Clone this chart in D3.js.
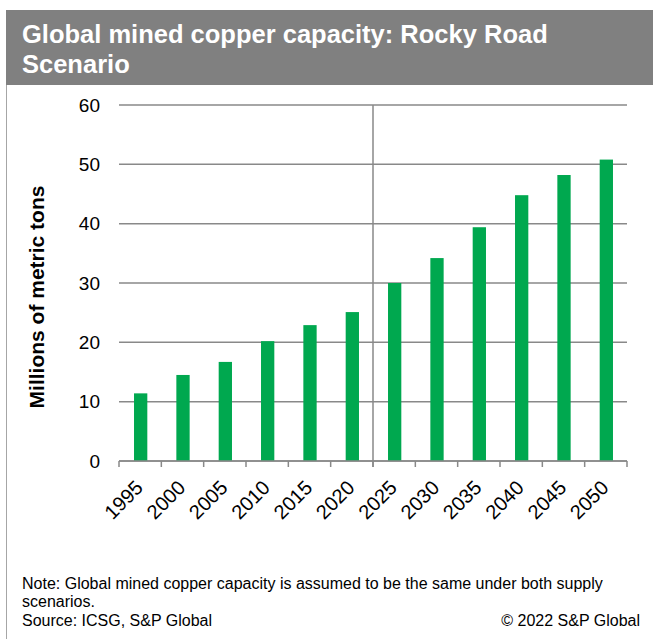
<!DOCTYPE html>
<html><head><meta charset="utf-8">
<script src="https://cdn.jsdelivr.net/npm/d3@7"></script>
<style>body{margin:0;background:#fff}svg{display:block;font-family:Arial,"Liberation Sans",sans-serif}</style>
</head><body>
<svg id="c" width="653" height="639"></svg>
<script>
const years = ["1995","2000","2005","2010","2015","2020","2025","2030","2035","2040","2045","2050"];
const capacity = [11.4,14.5,16.7,20.2,22.9,25.1,30.0,34.2,39.4,44.8,48.2,50.8];
const yTicks = [0,10,20,30,40,50,60];
const titleLines = ["Global mined copper capacity: Rocky Road","Scenario"];
const noteLines = ["Note: Global mined copper capacity is assumed to be the same under both supply","scenarios.","Source: ICSG, S&P Global"];
const copyright = "© 2022 S&P Global";

const svg = d3.select("#c");
// frame
svg.append("line").attr("x1",6.5).attr("x2",6.5).attr("y1",10).attr("y2",639).attr("stroke","#a6a6a6").attr("stroke-width",1);
svg.append("rect").attr("x",6).attr("y",10).attr("width",647).attr("height",75).attr("fill","#808080");
svg.append("g").selectAll("text").data(titleLines).join("text")
  .attr("x",22).attr("y",(d,i)=>42.5+i*30.5).attr("fill","#fff").attr("font-size",25.5).attr("font-weight","bold").text(d=>d);

const L=119,R=627,T=105,B=461;
const x = d3.scaleBand().domain(years).range([L,R]).paddingInner(0);
const y = d3.scaleLinear().domain([0,60]).range([B,T]);

// gridlines
svg.append("g").selectAll("line").data(yTicks).join("line")
  .attr("x1",L).attr("x2",R).attr("y1",d=>y(d)).attr("y2",d=>y(d))
  .attr("stroke","#898989").attr("stroke-width",1.5);
// vertical separator
svg.append("line").attr("x1",x("2025")).attr("x2",x("2025")).attr("y1",T).attr("y2",B+6)
  .attr("stroke","#898989").attr("stroke-width",1.5);

// bars
const bw = 13.3;
svg.append("g").selectAll("rect").data(years).join("rect")
  .attr("x",d=>x(d)+x.bandwidth()/2-bw/2+0.5).attr("width",bw)
  .attr("y",(d,i)=>y(capacity[i])).attr("height",(d,i)=>B-y(capacity[i]))
  .attr("fill","#00a84f");

// x axis
const gx = svg.append("g").attr("transform",`translate(0,${B})`);
gx.append("line").attr("x1",L).attr("x2",R).attr("stroke","#898989").attr("stroke-width",1.5);
const bounds = years.map(d=>x(d)).concat([R]);
gx.selectAll(".tk").data(bounds).join("line").attr("class","tk")
  .attr("x1",d=>d).attr("x2",d=>d).attr("y1",0).attr("y2",6).attr("stroke","#898989").attr("stroke-width",1.5);
gx.selectAll(".lb").data(years).join("text").attr("class","lb")
  .attr("transform",d=>`translate(${x(d)+x.bandwidth()/2+4},${28}) rotate(-45)`)
  .attr("text-anchor","end").attr("font-size",20).attr("fill","#000").text(d=>d);

// y axis labels
const yAxis = d3.axisLeft(y).tickValues(yTicks).tickSize(0).tickPadding(19);
const gy = svg.append("g").attr("transform",`translate(${L},0)`).call(yAxis);
gy.select(".domain").remove();
gy.selectAll("text").attr("font-size",19).attr("fill","#000").attr("font-family","Arial, 'Liberation Sans', sans-serif");

svg.append("text").attr("transform",`translate(44,297) rotate(-90)`).attr("text-anchor","middle")
  .attr("font-size",21).attr("font-weight","bold").text("Millions of metric tons");

// footer
svg.append("g").selectAll("text").data(noteLines).join("text")
  .attr("x",22).attr("y",(d,i)=>588.5+i*18.5).attr("font-size",16).attr("fill","#000").text(d=>d);
svg.append("text").attr("x",640).attr("y",625.5).attr("text-anchor","end").attr("font-size",16).text(copyright);
</script>
</body></html>
